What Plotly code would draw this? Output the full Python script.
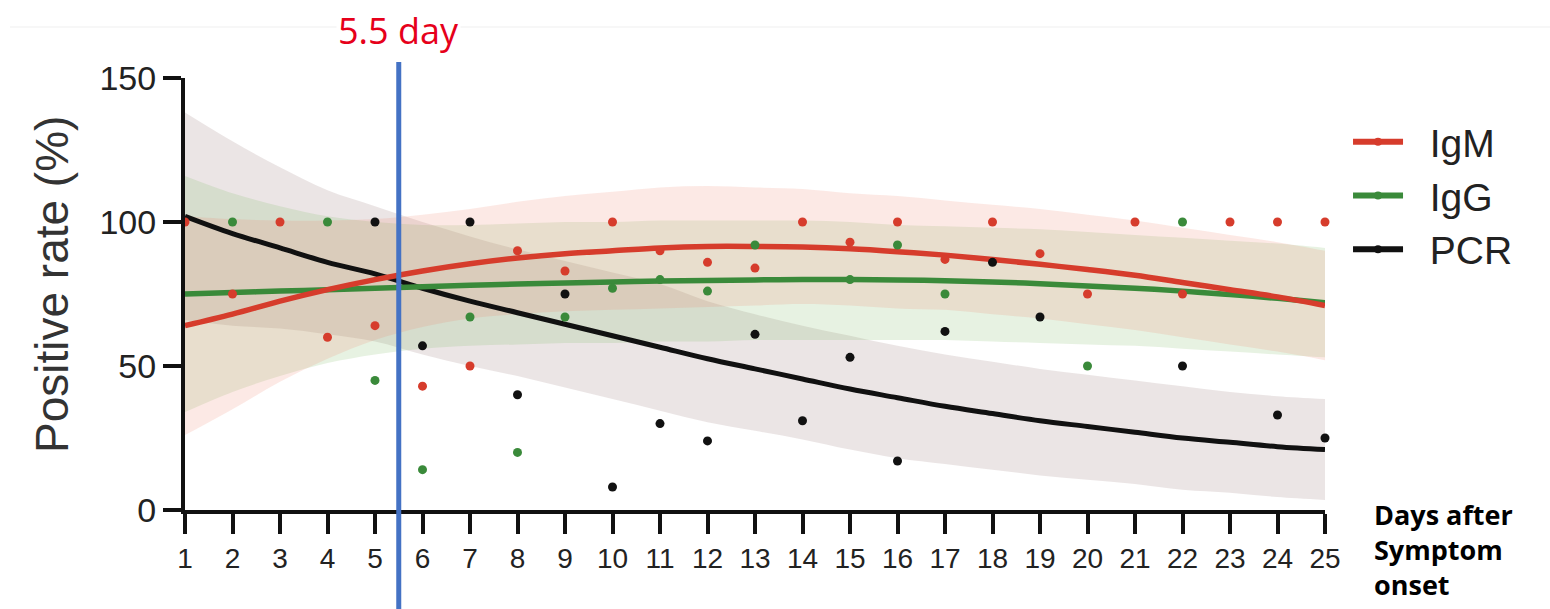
import plotly.graph_objects as go

# ---------------- data ----------------
DAYS = list(range(1, 26))
X_TICK_LABELS = [str(d) for d in DAYS]
Y_TICKS = [0, 50, 100, 150]

# observed positive rates (%), None = point not visible
IGM_POINTS = [100, 75, 100, 60, 64, 43, 50, 90, 83, 100, 90, 86, 84, 100, 93,
              100, 87, 100, 89, 75, 100, 75, 100, 100, 100]
IGG_POINTS = [None, 100, None, 100, 45, 14, 67, 20, 67, 77, 80, 76, 92, None, 80,
              92, 75, None, None, 50, None, 100, None, None, None]
PCR_POINTS = [None, None, None, None, 100, 57, 100, 40, 75, 8, 30, 24, 61, 31, 53,
              17, 62, 86, 67, None, None, 50, None, 33, 25]

# fitted curves
IGM_FIT = [64, 68, 72.5, 76.5, 80, 83, 85.5, 87.5, 89, 90, 91, 91.5, 91.5, 91.3, 90.7,
           89.7, 88.5, 87, 85.3, 83.5, 81.5, 79, 76.5, 74, 71]
IGG_FIT = [75, 75.5, 76, 76.5, 77, 77.5, 78, 78.5, 78.8, 79.2, 79.5, 79.7, 79.9, 80, 80,
           79.9, 79.6, 79.2, 78.6, 77.8, 77, 76, 74.8, 73.5, 72]
PCR_FIT = [102, 96, 91, 86, 82, 77, 72.5, 68.5, 64.5, 60.5, 56.5, 52.5, 49, 45.5, 42,
           39, 36, 33.5, 31, 29, 27, 25, 23.5, 22, 21]

# confidence bands
IGM_UPPER = [102, 101, 100.5, 100.5, 101, 102.5, 104.5, 107, 109, 110.5, 112, 112.5, 112,
             111.5, 110, 109, 107.5, 106, 104.5, 102.5, 100.5, 98, 95.5, 93, 90]
IGM_LOWER = [26, 35, 44.5, 52.5, 59, 63.5, 66.5, 68, 69, 69.5, 70, 70.5, 71, 71.5, 71,
             70, 69.5, 68, 66.5, 64.5, 62.5, 60, 57.5, 55, 52]
IGG_UPPER = [116, 110, 105.5, 102, 100, 99, 99, 99.5, 100, 100, 100.5, 100.5, 100.5,
             100.5, 100, 99, 98.5, 98, 97.5, 96.5, 95.5, 94.5, 93.5, 92.5, 91]
IGG_LOWER = [34, 41, 46.5, 51, 54, 56, 57, 57.5, 58, 58, 58.5, 58.5, 59, 59, 59, 59, 59,
             58.5, 58, 57.5, 57, 56, 55, 54, 53]
PCR_UPPER = [138, 128, 119, 111, 105.5, 100, 95, 90.5, 86.5, 82.5, 78.5, 72.5, 68, 64,
             60.5, 57, 54, 51.5, 49, 47, 45, 43, 41, 39.5, 38.5]
PCR_LOWER = [66, 64, 63, 61, 58.5, 54, 50, 46.5, 42.5, 38.5, 34.5, 30.5, 27.5, 24.5, 21,
             18, 16, 14, 12, 10.5, 9, 7, 6, 4.5, 3.5]

MARK_DAY = 5.5
SERIES = ["IgM", "IgG", "PCR"]

# ---------------- styling ----------------
RED = "#d63c2c"
GREEN = "#3a8a3a"
BLACK = "#111111"
BAND_FILL = {
    "PCR": "rgba(150,115,115,0.19)",
    "IgG": "rgba(130,185,100,0.19)",
    "IgM": "rgba(240,125,100,0.17)",
}
AXIS_FONT = "Liberation Sans, Arial, sans-serif"
NOTE_FONT = "Open Sans, sans-serif"
LEGEND_PAD = "\u00a0\u00a0"

fig = go.Figure()

# legend entries (line with a dot)
for name, col in zip(SERIES, [RED, GREEN, BLACK]):
    fig.add_trace(go.Scatter(x=[None], y=[None], mode="lines+markers",
                             name=LEGEND_PAD + name,
                             line=dict(color=col, width=6),
                             marker=dict(color=col, size=8)))

# confidence bands
for name, up, lo in [("PCR", PCR_UPPER, PCR_LOWER),
                     ("IgG", IGG_UPPER, IGG_LOWER),
                     ("IgM", IGM_UPPER, IGM_LOWER)]:
    fig.add_trace(go.Scatter(x=DAYS, y=up, mode="lines", line=dict(width=0, shape="spline"),
                             showlegend=False, hoverinfo="skip"))
    fig.add_trace(go.Scatter(x=DAYS, y=lo, mode="lines", line=dict(width=0, shape="spline"),
                             fill="tonexty", fillcolor=BAND_FILL[name],
                             showlegend=False, hoverinfo="skip"))

# fitted lines
for fit, col, w in [(PCR_FIT, BLACK, 5), (IGG_FIT, GREEN, 5.5), (IGM_FIT, RED, 5.5)]:
    fig.add_trace(go.Scatter(x=DAYS, y=fit, mode="lines",
                             line=dict(color=col, width=w, shape="spline"),
                             showlegend=False))

# observed points
for pts, col in [(PCR_POINTS, BLACK), (IGG_POINTS, GREEN), (IGM_POINTS, RED)]:
    fig.add_trace(go.Scatter(x=DAYS, y=pts, mode="markers", cliponaxis=False,
                             marker=dict(color=col, size=9),
                             showlegend=False))

fig.update_layout(
    width=1550, height=609,
    margin=dict(l=185, r=225, t=78, b=99),
    paper_bgcolor="white", plot_bgcolor="white",
    showlegend=True,
    legend=dict(x=1.0202, y=0.926, xanchor="left", yanchor="top", traceorder="normal",
                font=dict(family=AXIS_FONT, size=39, color="#222222"),
                itemwidth=50, tracegroupgap=0, bgcolor="rgba(0,0,0,0)"),
    xaxis=dict(range=[1, 25], tickmode="array", tickvals=DAYS, ticktext=X_TICK_LABELS,
               showline=True, linecolor="#111", linewidth=4,
               ticks="outside", ticklen=20, tickwidth=4, tickcolor="#111",
               showgrid=False, zeroline=False,
               tickfont=dict(family=AXIS_FONT, size=28, color="#222")),
    yaxis=dict(range=[0, 150], tickmode="array", tickvals=Y_TICKS,
               showline=True, linecolor="#111", linewidth=4,
               ticks="outside", ticklen=18, tickwidth=4, tickcolor="#111",
               showgrid=False, zeroline=False,
               tickfont=dict(family=AXIS_FONT, size=34, color="#222")),
    shapes=[
        dict(type="line", xref="paper", yref="paper", x0=-0.1535, x1=1.2,
             y0=1.118, y1=1.118, line=dict(color="#efefef", width=1), layer="below"),
        dict(type="line", xref="x", yref="paper", x0=MARK_DAY, x1=MARK_DAY,
             y0=-0.235, y1=1.037, line=dict(color="#4472c4", width=5), layer="above"),
    ],
    annotations=[
        dict(text="Positive rate (%)", xref="paper", yref="paper", x=-0.1167, y=0.523,
             textangle=-90, showarrow=False, xanchor="center", yanchor="middle",
             font=dict(family=AXIS_FONT, size=46, color="#333333")),
        dict(text="5.5 day", xref="x", yref="paper", x=MARK_DAY, y=1.111,
             showarrow=False, xanchor="center", yanchor="middle", bgcolor="white",
             font=dict(family=NOTE_FONT, size=36, color="#e6001a")),
        dict(text="<b>Days after<br>Symptom<br>onset</b>", xref="paper", yref="paper",
             x=1.0412, y=0.036, xanchor="left", yanchor="top", align="left",
             showarrow=False,
             font=dict(family=NOTE_FONT, size=27, color="#000000")),
    ],
)

fig.write_html("out.html", include_plotlyjs=True, full_html=True,
               config={"displayModeBar": False},
               post_script="document.body.style.margin='0';document.body.style.overflow='hidden';")
